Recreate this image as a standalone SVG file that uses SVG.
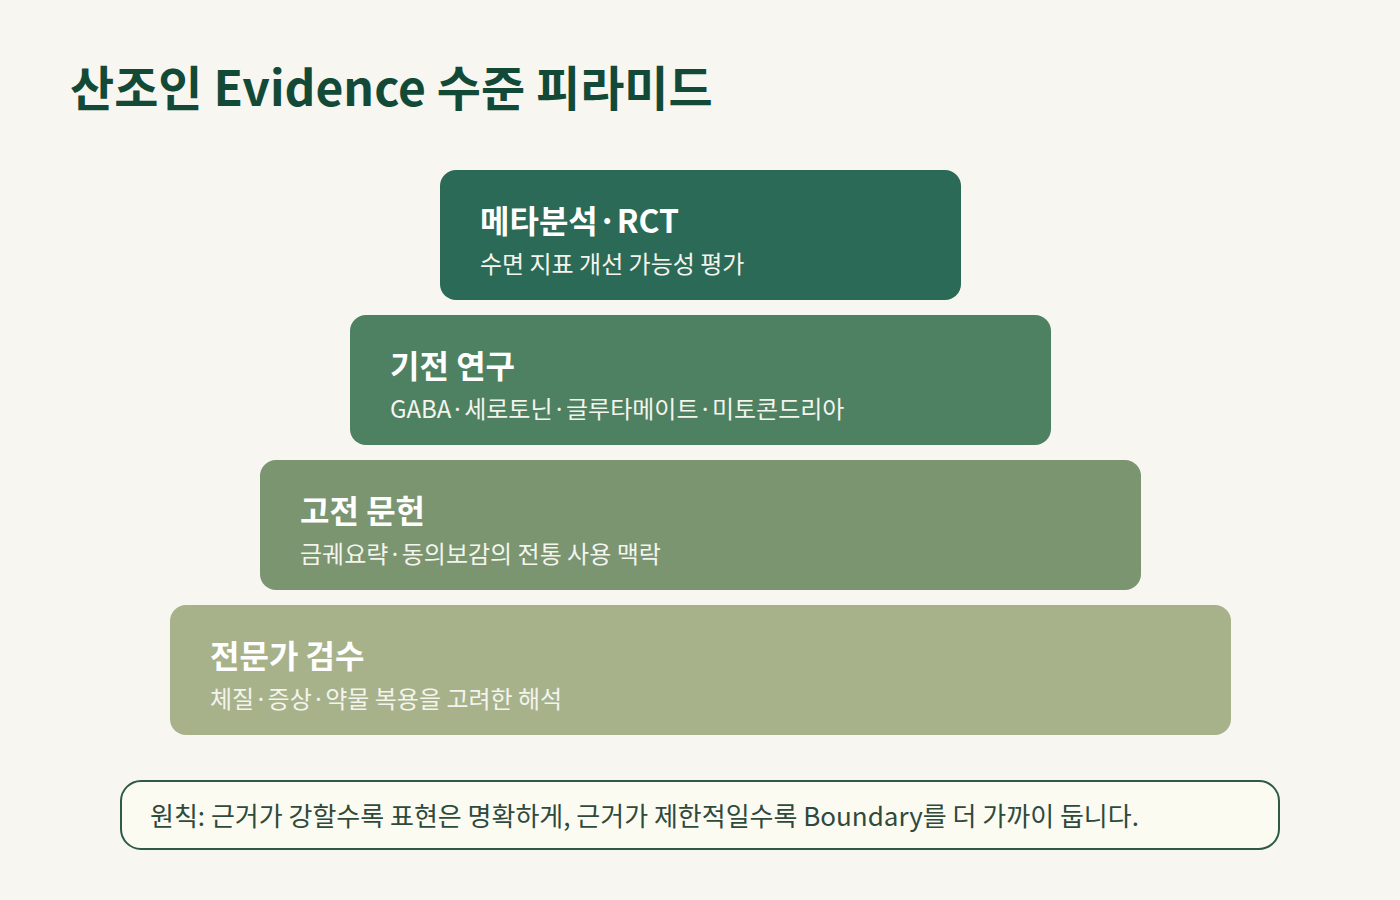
<svg xmlns="http://www.w3.org/2000/svg" width="1400" height="900" viewBox="0 0 1400 900">
<style>
text{font-family:"Noto Sans CJK KR","Noto Sans",sans-serif}
.title{font-size:48px;font-weight:700;fill:#134a37}
.h{font-size:32px;font-weight:700;fill:#ffffff}
.s{font-size:24px;font-weight:400;fill:#f4f4ee}
.note{font-size:26px;font-weight:400;fill:#2e4a3c}
</style>
<rect width="1400" height="900" fill="#f7f6f1"/>
<text class="title" x="70" y="106">산조인 Evidence 수준 피라미드</text>
<g id="level1">
<rect x="440" y="170" width="521" height="130" rx="16" fill="#2b6a57"/>
<text class="h" x="480" y="233">메타분석·RCT</text>
<text class="s" x="480" y="273">수면 지표 개선 가능성 평가</text>
</g>
<g id="level2">
<rect x="350" y="315" width="701" height="130" rx="16" fill="#4e8161"/>
<text class="h" x="390" y="378">기전 연구</text>
<text class="s" x="390" y="418">GABA·세로토닌·글루타메이트·미토콘드리아</text>
</g>
<g id="level3">
<rect x="260" y="460" width="881" height="130" rx="16" fill="#7a9570"/>
<text class="h" x="300" y="523">고전 문헌</text>
<text class="s" x="300" y="563">금궤요략·동의보감의 전통 사용 맥락</text>
</g>
<g id="level4">
<rect x="170" y="605" width="1061" height="130" rx="16" fill="#a7b28b"/>
<text class="h" x="210" y="668">전문가 검수</text>
<text class="s" x="210" y="708">체질·증상·약물 복용을 고려한 해석</text>
</g>
<g id="principle">
<rect x="121" y="781" width="1158" height="68" rx="20" fill="#fcfbf2" stroke="#2f5a45" stroke-width="2"/>
<text class="note" x="150" y="826">원칙: 근거가 강할수록 표현은 명확하게, 근거가 제한적일수록 Boundary를 더 가까이 둡니다.</text>
</g>
<g id="connectors"></g>
</svg>
